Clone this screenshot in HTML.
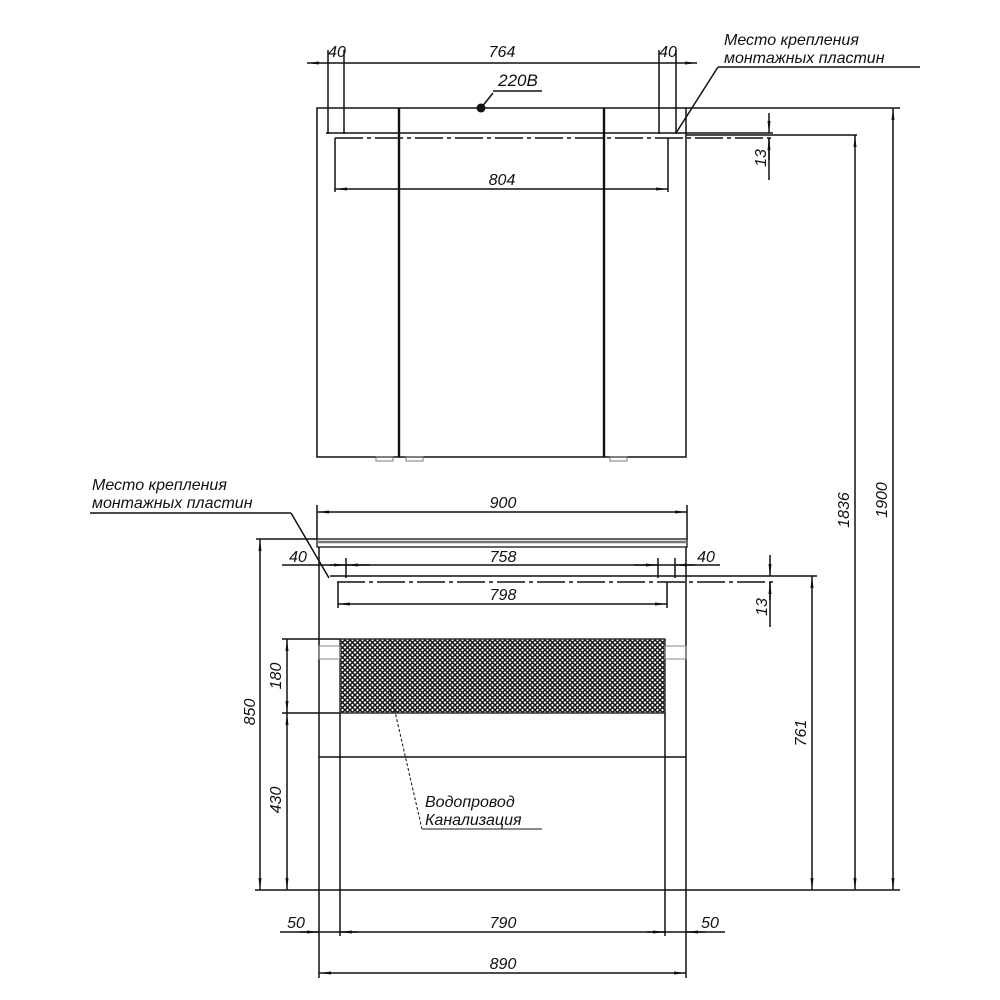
<!DOCTYPE html>
<html><head><meta charset="utf-8"><style>
html,body{margin:0;padding:0;background:#fff;}
svg{display:block;}
text{font-family:"Liberation Sans",sans-serif;font-style:italic;font-size:16px;fill:#111;}
</style></head><body>
<svg width="1000" height="1000" viewBox="0 0 1000 1000" xmlns="http://www.w3.org/2000/svg">
<defs>
<pattern id="h" width="5" height="5" patternUnits="userSpaceOnUse">
<rect width="5" height="5" fill="#fff"/>
<path d="M0,0L5,5M5,0L0,5" stroke="#111" stroke-width="1.5"/>
</pattern>
<marker id="a" markerWidth="12" markerHeight="6" refX="12" refY="3" orient="auto-start-reverse" markerUnits="userSpaceOnUse"><path d="M0,1.5L12,3L0,4.5z" fill="#111"/></marker>
</defs>
<g stroke="#111" stroke-width="1.5" fill="none">
<rect x="317" y="108" width="369" height="349"/>
<line x1="399" y1="108" x2="399" y2="457" stroke-width="2.4"/>
<line x1="604" y1="108" x2="604" y2="457" stroke-width="2.4"/>
<rect x="376" y="457" width="17" height="4" stroke="#777" stroke-width="1"/>
<rect x="406" y="457" width="17" height="4" stroke="#777" stroke-width="1"/>
<rect x="610" y="457" width="17" height="4" stroke="#777" stroke-width="1"/>
<line x1="307" y1="63" x2="697" y2="63" marker-start="url(#a)" marker-end="url(#a)"/>
<line x1="328" y1="50" x2="328" y2="134"/>
<line x1="344" y1="50" x2="344" y2="134"/>
<line x1="659" y1="50" x2="659" y2="134"/>
<line x1="676" y1="50" x2="676" y2="134"/>
<line x1="326" y1="133" x2="773" y2="133"/>
<line x1="335" y1="138" x2="773" y2="138" stroke-dasharray="28,4,4,4"/>
<line x1="686" y1="135" x2="857" y2="135"/>
<line x1="335" y1="138" x2="335" y2="192"/>
<line x1="668" y1="138" x2="668" y2="192"/>
<line x1="335" y1="189" x2="668" y2="189" marker-start="url(#a)" marker-end="url(#a)"/>
<line x1="769" y1="113" x2="769" y2="133" marker-end="url(#a)"/>
<line x1="769" y1="160" x2="769" y2="138" marker-end="url(#a)"/>
<line x1="769" y1="138" x2="769" y2="180"/>
<line x1="481" y1="108" x2="493" y2="93"/>
<line x1="493" y1="91" x2="542" y2="91"/>
<line x1="718" y1="67" x2="920" y2="67"/>
<line x1="718" y1="67" x2="676" y2="133"/>
<line x1="686" y1="108" x2="900" y2="108"/>
<line x1="893" y1="108" x2="893" y2="890" marker-start="url(#a)" marker-end="url(#a)"/>
<line x1="855" y1="135" x2="855" y2="890" marker-start="url(#a)" marker-end="url(#a)"/>
<line x1="317" y1="505" x2="317" y2="540"/>
<line x1="687" y1="505" x2="687" y2="540"/>
<line x1="317" y1="512" x2="687" y2="512" marker-start="url(#a)" marker-end="url(#a)"/>
<rect x="317" y="539" width="370" height="8" stroke="#333"/>
<line x1="317" y1="542" x2="687" y2="542" stroke="#777" stroke-width="2.5"/>
<line x1="256" y1="539" x2="317" y2="539"/>
<line x1="319" y1="547" x2="319" y2="978"/>
<line x1="686" y1="547" x2="686" y2="978"/>
<line x1="282" y1="565" x2="720" y2="565"/>
<line x1="330" y1="565" x2="346" y2="565" marker-end="url(#a)"/>
<line x1="346" y1="565" x2="370" y2="565" marker-start="url(#a)"/>
<line x1="634" y1="565" x2="658" y2="565" marker-end="url(#a)"/>
<line x1="675" y1="565" x2="695" y2="565" marker-start="url(#a)"/>
<line x1="346" y1="558" x2="346" y2="578"/>
<line x1="658" y1="558" x2="658" y2="578"/>
<line x1="675" y1="558" x2="675" y2="578"/>
<line x1="330" y1="576" x2="817" y2="576"/>
<line x1="337" y1="582" x2="775" y2="582" stroke-dasharray="28,4,4,4"/>
<line x1="338" y1="582" x2="338" y2="608"/>
<line x1="667" y1="582" x2="667" y2="608"/>
<line x1="338" y1="604" x2="667" y2="604" marker-start="url(#a)" marker-end="url(#a)"/>
<line x1="770" y1="555" x2="770" y2="576" marker-end="url(#a)"/>
<line x1="770" y1="600" x2="770" y2="582" marker-end="url(#a)"/>
<line x1="770" y1="582" x2="770" y2="627"/>
<line x1="90" y1="513" x2="291" y2="513"/>
<line x1="291" y1="513" x2="329" y2="578"/>
<rect x="340" y="639" width="325" height="74" fill="url(#h)" stroke="#333"/>
<rect x="319" y="646" width="21" height="13" stroke="#888" stroke-width="1"/>
<rect x="665" y="646" width="21" height="13" stroke="#888" stroke-width="1"/>
<line x1="340" y1="713" x2="340" y2="936"/>
<line x1="665" y1="713" x2="665" y2="936"/>
<line x1="282" y1="639" x2="340" y2="639"/>
<line x1="282" y1="713" x2="340" y2="713"/>
<line x1="287" y1="639" x2="287" y2="713" marker-start="url(#a)" marker-end="url(#a)"/>
<line x1="287" y1="713" x2="287" y2="890" marker-start="url(#a)" marker-end="url(#a)"/>
<line x1="260" y1="539" x2="260" y2="890" marker-start="url(#a)" marker-end="url(#a)"/>
<line x1="319" y1="757" x2="686" y2="757"/>
<line x1="255" y1="890" x2="900" y2="890"/>
<line x1="812" y1="576" x2="812" y2="890" marker-start="url(#a)" marker-end="url(#a)"/>
<line x1="390" y1="690" x2="422" y2="829" stroke-dasharray="3,2" stroke-width="1"/>
<line x1="422" y1="829" x2="542" y2="829" stroke="#666"/>
<line x1="280" y1="932" x2="725" y2="932"/>
<line x1="300" y1="932" x2="319" y2="932" marker-end="url(#a)"/>
<line x1="340" y1="932" x2="358" y2="932" marker-start="url(#a)"/>
<line x1="647" y1="932" x2="665" y2="932" marker-end="url(#a)"/>
<line x1="686" y1="932" x2="705" y2="932" marker-start="url(#a)"/>
<line x1="319" y1="973" x2="686" y2="973" marker-start="url(#a)" marker-end="url(#a)"/>
</g>
<circle cx="481" cy="108" r="4.5" fill="#111"/>
<g text-anchor="middle">
<text x="337" y="57">40</text>
<text x="502" y="57">764</text>
<text x="668" y="57">40</text>
<text x="518" y="86" style="font-size:17px">220В</text>
<text x="502" y="185">804</text>
<text x="503" y="508">900</text>
<text x="298" y="562">40</text>
<text x="503" y="562">758</text>
<text x="706" y="562">40</text>
<text x="503" y="600">798</text>
<text x="296" y="928">50</text>
<text x="503" y="928">790</text>
<text x="710" y="928">50</text>
<text x="503" y="969">890</text>
<text transform="translate(766,158) rotate(-90)">13</text>
<text transform="translate(767,607) rotate(-90)">13</text>
<text transform="translate(849,510) rotate(-90)">1836</text>
<text transform="translate(887,500) rotate(-90)">1900</text>
<text transform="translate(806,733) rotate(-90)">761</text>
<text transform="translate(281,676) rotate(-90)">180</text>
<text transform="translate(281,800) rotate(-90)">430</text>
<text transform="translate(255,712) rotate(-90)">850</text>
</g>
<text x="724" y="45">Место крепления</text>
<text x="724" y="63">монтажных пластин</text>
<text x="92" y="490">Место крепления</text>
<text x="92" y="508">монтажных пластин</text>
<text x="425" y="807">Водопровод</text>
<text x="425" y="825">Канализация</text>
</svg>
</body></html>
